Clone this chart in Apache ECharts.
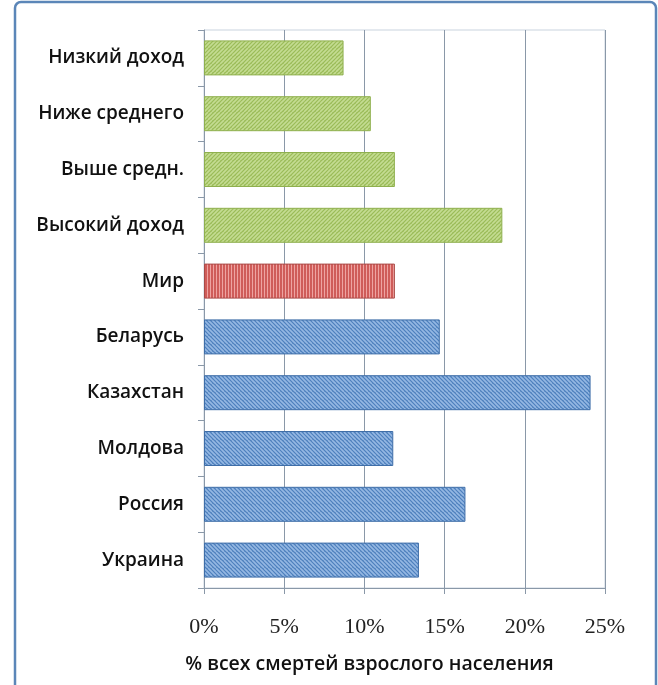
<!DOCTYPE html>
<html>
<head>
<meta charset="utf-8">
<script src="https://cdn.jsdelivr.net/npm/echarts@6/dist/echarts.min.js"></script>
<style>
  html, body { margin: 0; padding: 0; background: #ffffff; }
  #chart { width: 658px; height: 685px; }
</style>
</head>
<body>
<div id="chart"></div>
<script>
// Share of adult deaths, by income group, world and selected countries
const categories = ['Низкий доход', 'Ниже среднего', 'Выше средн.', 'Высокий доход', 'Мир',
                    'Беларусь', 'Казахстан', 'Молдова', 'Россия', 'Украина'];
const values = [8.7, 10.4, 11.9, 18.6, 11.9, 14.7, 24.1, 11.8, 16.3, 13.4];
const groups = ['income', 'income', 'income', 'income', 'world',
                'country', 'country', 'country', 'country', 'country'];
const tickValues = [0, 5, 10, 15, 20, 25];

// Hatched fills drawn on small tiles
function hatch(base, stripe, dir) {
  const c = document.createElement('canvas');
  const s = dir === '|' ? 3 : 8;
  c.width = s; c.height = s;
  const g = c.getContext('2d');
  g.fillStyle = base;
  g.fillRect(0, 0, s, s);
  g.strokeStyle = stripe;
  g.fillStyle = stripe;
  g.lineWidth = 1.6;
  if (dir === '|') {
    g.fillRect(0, 0, 1, s);
  } else {
    for (let k = -2; k <= 3; k++) {
      g.beginPath();
      if (dir === '/') { g.moveTo(k * 4, s); g.lineTo(k * 4 + s, 0); }
      else { g.moveTo(k * 4, 0); g.lineTo(k * 4 + s, s); }
      g.stroke();
    }
  }
  return { image: c, repeat: 'repeat' };
}

const styles = {
  income:  { color: hatch('#9bbb59', '#c4dc92', '/'),  borderColor: '#8fb04e' },
  world:   { color: hatch('#cf5c59', '#eea3a1', '|'),  borderColor: '#a94a47' },
  country: { color: hatch('#4f81bd', '#95b8e3', '\\'), borderColor: '#3f6ea8' }
};

const seriesData = values.map((v, i) => ({
  value: v,
  itemStyle: { color: styles[groups[i]].color, borderColor: styles[groups[i]].borderColor, borderWidth: 1 }
}));

const chart = echarts.init(document.getElementById('chart'), null, { renderer: 'canvas' });
chart.setOption({
  animation: false,
  backgroundColor: '#ffffff',
  graphic: [{
    type: 'rect',
    shape: { x: 15, y: 2, width: 641, height: 720, r: 6 },
    style: { fill: 'none', stroke: '#5b86b8', lineWidth: 2.5 },
    z: 100
  }],
  grid: {
    left: 204, right: 53, top: 30, bottom: 97,
    show: true, borderColor: '#c9d3de', borderWidth: 1, backgroundColor: 'transparent'
  },
  xAxis: {
    type: 'value',
    min: tickValues[0],
    max: tickValues[tickValues.length - 1],
    interval: tickValues[1] - tickValues[0],
    name: '% всех смертей взрослого населения',
    nameLocation: 'middle',
    nameGap: 66,
    nameTextStyle: {
      fontFamily: 'Open Sans', fontSize: 19.5, fontWeight: 600, color: '#111',
      padding: [0, 70, 0, 0]
    },
    axisLine: { show: true, lineStyle: { color: '#8a98a8', width: 1 } },
    axisTick: { show: true, length: 6, lineStyle: { color: '#8a98a8' } },
    axisLabel: {
      formatter: '{value}%', margin: 28,
      fontFamily: 'Liberation Serif', fontSize: 22, color: '#222'
    },
    splitLine: { show: true, lineStyle: { color: '#8a98a8', width: 1 } }
  },
  yAxis: {
    type: 'category',
    data: categories,
    inverse: true,
    axisLine: { show: true, lineStyle: { color: '#8a98a8', width: 1 } },
    axisTick: { show: true, length: 6, lineStyle: { color: '#8a98a8' } },
    axisLabel: {
      margin: 20,
      fontFamily: 'Open Sans', fontSize: 19, fontWeight: 600, color: '#111'
    }
  },
  series: [{
    type: 'bar',
    data: seriesData,
    barWidth: 35
  }]
});
</script>
</body>
</html>
